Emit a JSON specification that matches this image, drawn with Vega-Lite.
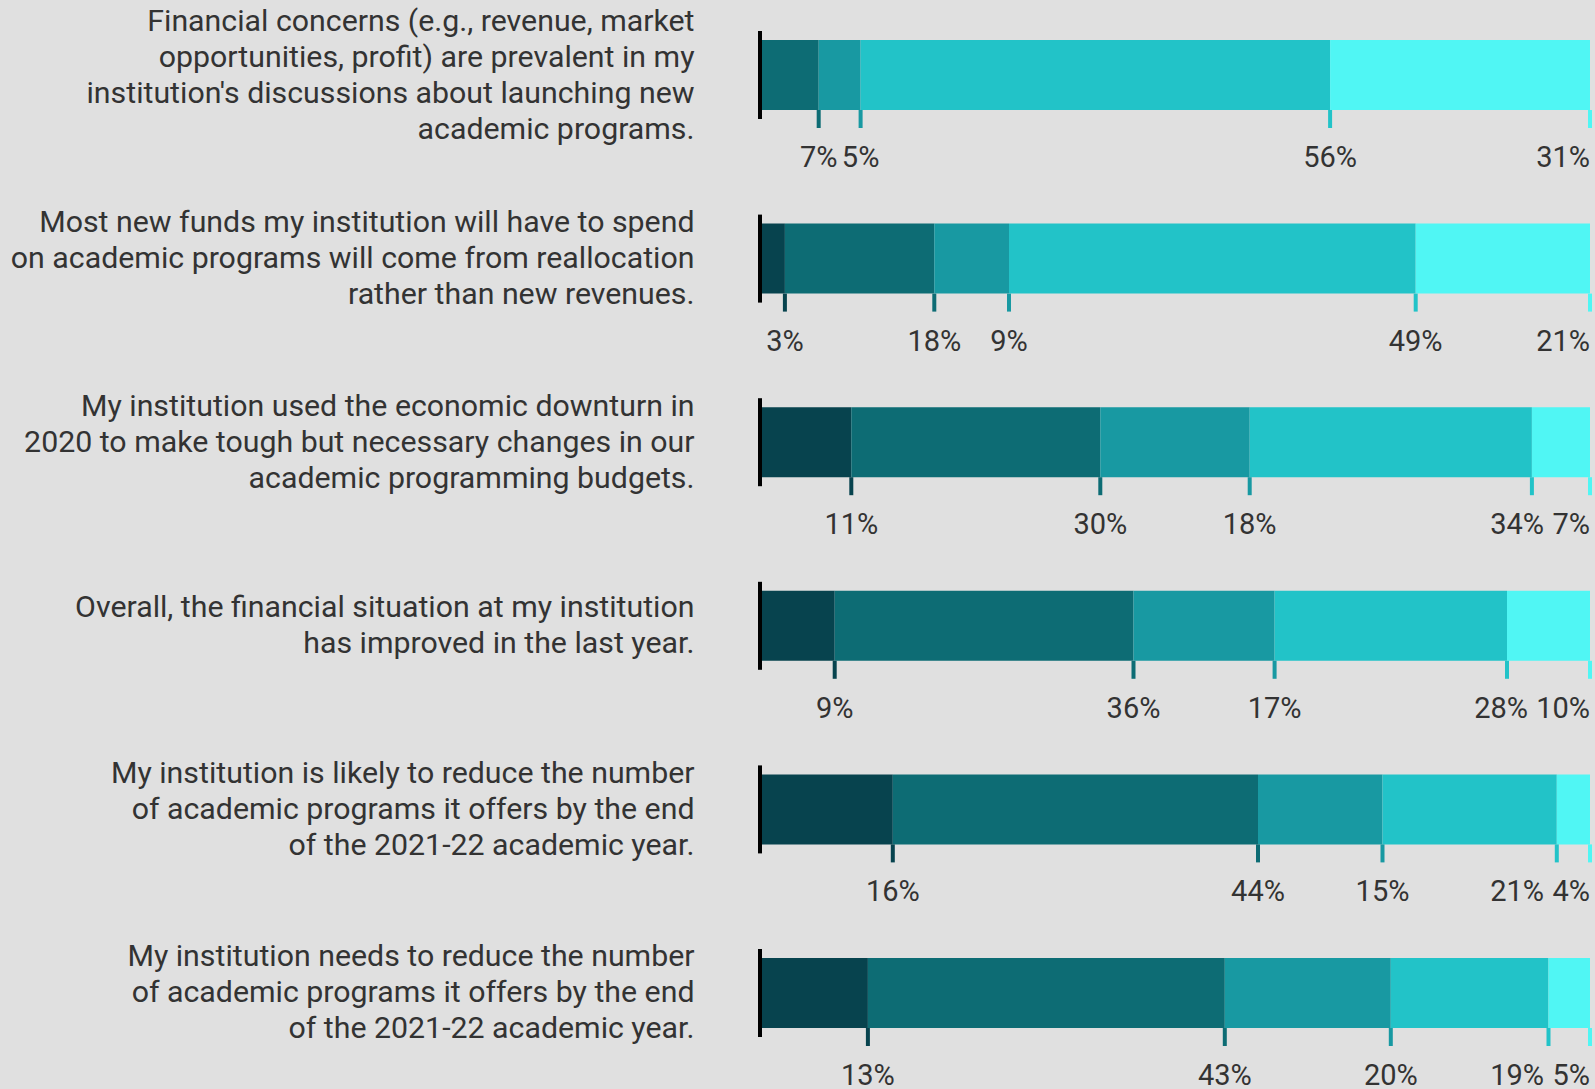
{
  "$schema": "https://vega.github.io/schema/vega-lite/v6.json",
  "width": 830,
  "height": 1068,
  "autosize": {"type": "none"},
  "padding": {"left": 760, "top": 0, "right": 5, "bottom": 21},
  "background": "#e0e0e0",
  "config": {"view": {"stroke": null}, "font": "Roboto"},
  "data": {
    "values": [
      {"q": "Financial concerns (e.g., revenue, market|opportunities, profit) are prevalent in my|institution's discussions about launching new|academic programs.", "level": 2, "value": 7},
      {"q": "Financial concerns (e.g., revenue, market|opportunities, profit) are prevalent in my|institution's discussions about launching new|academic programs.", "level": 3, "value": 5},
      {"q": "Financial concerns (e.g., revenue, market|opportunities, profit) are prevalent in my|institution's discussions about launching new|academic programs.", "level": 4, "value": 56},
      {"q": "Financial concerns (e.g., revenue, market|opportunities, profit) are prevalent in my|institution's discussions about launching new|academic programs.", "level": 5, "value": 31},
      {"q": "Most new funds my institution will have to spend|on academic programs will come from reallocation|rather than new revenues.", "level": 1, "value": 3},
      {"q": "Most new funds my institution will have to spend|on academic programs will come from reallocation|rather than new revenues.", "level": 2, "value": 18},
      {"q": "Most new funds my institution will have to spend|on academic programs will come from reallocation|rather than new revenues.", "level": 3, "value": 9},
      {"q": "Most new funds my institution will have to spend|on academic programs will come from reallocation|rather than new revenues.", "level": 4, "value": 49},
      {"q": "Most new funds my institution will have to spend|on academic programs will come from reallocation|rather than new revenues.", "level": 5, "value": 21},
      {"q": "My institution used the economic downturn in|2020 to make tough but necessary changes in our|academic programming budgets.", "level": 1, "value": 11},
      {"q": "My institution used the economic downturn in|2020 to make tough but necessary changes in our|academic programming budgets.", "level": 2, "value": 30},
      {"q": "My institution used the economic downturn in|2020 to make tough but necessary changes in our|academic programming budgets.", "level": 3, "value": 18},
      {"q": "My institution used the economic downturn in|2020 to make tough but necessary changes in our|academic programming budgets.", "level": 4, "value": 34},
      {"q": "My institution used the economic downturn in|2020 to make tough but necessary changes in our|academic programming budgets.", "level": 5, "value": 7},
      {"q": "Overall, the financial situation at my institution|has improved in the last year.", "level": 1, "value": 9},
      {"q": "Overall, the financial situation at my institution|has improved in the last year.", "level": 2, "value": 36},
      {"q": "Overall, the financial situation at my institution|has improved in the last year.", "level": 3, "value": 17},
      {"q": "Overall, the financial situation at my institution|has improved in the last year.", "level": 4, "value": 28},
      {"q": "Overall, the financial situation at my institution|has improved in the last year.", "level": 5, "value": 10},
      {"q": "My institution is likely to reduce the number|of academic programs it offers by the end|of the 2021-22 academic year.", "level": 1, "value": 16},
      {"q": "My institution is likely to reduce the number|of academic programs it offers by the end|of the 2021-22 academic year.", "level": 2, "value": 44},
      {"q": "My institution is likely to reduce the number|of academic programs it offers by the end|of the 2021-22 academic year.", "level": 3, "value": 15},
      {"q": "My institution is likely to reduce the number|of academic programs it offers by the end|of the 2021-22 academic year.", "level": 4, "value": 21},
      {"q": "My institution is likely to reduce the number|of academic programs it offers by the end|of the 2021-22 academic year.", "level": 5, "value": 4},
      {"q": "My institution needs to reduce the number|of academic programs it offers by the end|of the 2021-22 academic year.", "level": 1, "value": 13},
      {"q": "My institution needs to reduce the number|of academic programs it offers by the end|of the 2021-22 academic year.", "level": 2, "value": 43},
      {"q": "My institution needs to reduce the number|of academic programs it offers by the end|of the 2021-22 academic year.", "level": 3, "value": 20},
      {"q": "My institution needs to reduce the number|of academic programs it offers by the end|of the 2021-22 academic year.", "level": 4, "value": 19},
      {"q": "My institution needs to reduce the number|of academic programs it offers by the end|of the 2021-22 academic year.", "level": 5, "value": 5}
    ]
  },
  "transform": [
    {"stack": "value", "groupby": ["q"], "sort": [{"field": "level", "order": "ascending"}], "as": ["x0", "x1"], "offset": "normalize"}
  ],
  "encoding": {
    "y": {
      "field": "q",
      "type": "ordinal",
      "scale": {
        "type": "point",
        "padding": 0.4085,
        "domain": [
          "Financial concerns (e.g., revenue, market|opportunities, profit) are prevalent in my|institution's discussions about launching new|academic programs.",
          "Most new funds my institution will have to spend|on academic programs will come from reallocation|rather than new revenues.",
          "My institution used the economic downturn in|2020 to make tough but necessary changes in our|academic programming budgets.",
          "Overall, the financial situation at my institution|has improved in the last year.",
          "My institution is likely to reduce the number|of academic programs it offers by the end|of the 2021-22 academic year.",
          "My institution needs to reduce the number|of academic programs it offers by the end|of the 2021-22 academic year."
        ]
      },
      "axis": {
        "title": null,
        "domain": false,
        "ticks": false,
        "labelPadding": 66,
        "labelFontSize": 30.3,
        "labelFont": "Roboto",
        "labelColor": "#333333",
        "labelLineHeight": 36,
        "labelAlign": "right",
        "labelBaseline": "middle",
        "labelLimit": 0,
        "labelOffset": {"expr": "-18 * (length(split(datum.label, '|')) - 1)"},
        "labelExpr": "split(datum.label, '|')"
      }
    }
  },
  "layer": [
    {
      "mark": {"type": "bar", "height": 70},
      "encoding": {
        "x": {"field": "x0", "type": "quantitative", "scale": {"domain": [0, 1]}, "axis": null},
        "x2": {"field": "x1"},
        "color": {"field": "level", "type": "ordinal", "scale": {"domain": [1, 2, 3, 4, 5], "range": ["#07434e", "#0d6c74", "#1899a2", "#22c3c8", "#50f6f4"]}, "legend": null}
      }
    },
    {
      "mark": {"type": "tick", "thickness": 4, "size": 18, "yOffset": 44, "opacity": 1},
      "encoding": {
        "x": {"field": "x1", "type": "quantitative"},
        "color": {"field": "level", "type": "ordinal", "legend": null}
      }
    },
    {
      "transform": [{"filter": "datum.x0 == 0"}],
      "mark": {"type": "tick", "thickness": 4, "size": 88, "color": "#000000", "opacity": 1},
      "encoding": {"x": {"datum": 0}}
    },
    {
      "transform": [{"filter": "datum.level < 5 && !(datum.level == 4 && datum.x1 > 0.895)"}],
      "mark": {"type": "text", "align": "center", "baseline": "alphabetic", "dy": 92, "fontSize": 29, "font": "Roboto", "color": "#333333", "text": {"expr": "datum.value + '%'"}},
      "encoding": {"x": {"field": "x1", "type": "quantitative"}}
    },
    {
      "transform": [{"filter": "datum.level == 4 && datum.x1 > 0.905"}],
      "mark": {"type": "text", "align": "right", "baseline": "alphabetic", "dy": 92, "dx": -46, "fontSize": 29, "font": "Roboto", "color": "#333333", "text": {"expr": "datum.value + '%'"}},
      "encoding": {"x": {"datum": 1}}
    },
    {
      "transform": [{"filter": "datum.level == 4 && datum.x1 > 0.895 && datum.x1 <= 0.905"}],
      "mark": {"type": "text", "align": "right", "baseline": "alphabetic", "dy": 92, "dx": -62, "fontSize": 29, "font": "Roboto", "color": "#333333", "text": {"expr": "datum.value + '%'"}},
      "encoding": {"x": {"datum": 1}}
    },
    {
      "transform": [{"filter": "datum.level == 5"}],
      "mark": {"type": "text", "align": "right", "baseline": "alphabetic", "dy": 92, "fontSize": 29, "font": "Roboto", "color": "#333333", "text": {"expr": "datum.value + '%'"}},
      "encoding": {"x": {"datum": 1}}
    }
  ]
}
